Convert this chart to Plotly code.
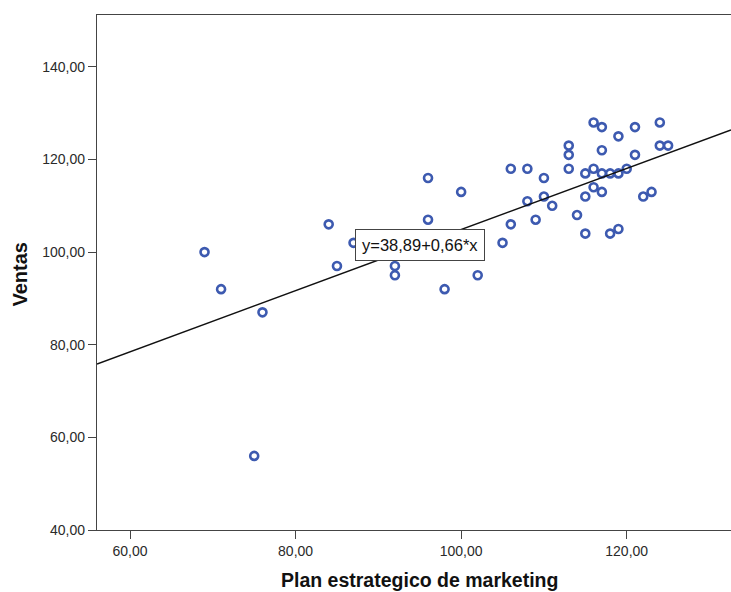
import plotly.graph_objects as go

# Data (Plan estrategico de marketing vs Ventas)
marketing = [69, 71, 76, 75,
             84, 85, 87, 92, 92, 96, 96, 98, 100, 102,
             105, 106, 106, 108, 108, 109, 110, 110, 111,
             113, 113, 113, 114, 115, 115, 115,
             116, 116, 116, 117, 117, 117, 117,
             118, 118, 119, 119, 119, 120,
             121, 121, 122, 123, 124, 124, 125]
ventas = [100, 92, 87, 56,
          106, 97, 102, 97, 95, 116, 107, 92, 113, 95,
          102, 118, 106, 118, 111, 107, 116, 112, 110,
          123, 121, 118, 108, 117, 112, 104,
          128, 118, 114, 127, 122, 117, 113,
          117, 104, 125, 117, 105, 118,
          127, 121, 112, 113, 128, 123, 123]

intercept = 38.89
slope = 0.66
fit_label = "y=38,89+0,66*x"

x_ticks = [60, 80, 100, 120]
x_tick_labels = ["60,00", "80,00", "100,00", "120,00"]
y_ticks = [40, 60, 80, 100, 120, 140]
y_tick_labels = ["40,00", "60,00", "80,00", "100,00", "120,00", "140,00"]

x_range = [56.01, 132.6]
y_range = [40, 151.2]

fig = go.Figure()

fig.add_trace(go.Scatter(
    x=marketing, y=ventas, mode="markers",
    marker=dict(symbol="circle-open", size=8, color="#3d5ab0",
                line=dict(width=2.6, color="#3d5ab0")),
    hoverinfo="x+y", showlegend=False))

line_x = [x_range[0], x_range[1]]
line_y = [intercept + slope * v for v in line_x]
fig.add_trace(go.Scatter(
    x=line_x, y=line_y, mode="lines",
    line=dict(color="#111111", width=1.5),
    hoverinfo="skip", showlegend=False))

fig.add_annotation(
    x=95.03, y=101.45, xref="x", yref="y", text=fit_label,
    showarrow=False, xanchor="center", yanchor="middle",
    font=dict(family="Liberation Sans, Arial, sans-serif", size=16.5, color="#111"),
    bgcolor="white", bordercolor="#444", borderwidth=1, borderpad=6)

fig.add_annotation(
    x=0.509, y=-0.0975, xref="paper", yref="paper",
    text="<b>Plan estrategico de marketing</b>", showarrow=False,
    xanchor="center", yanchor="middle",
    font=dict(family="Liberation Sans, Arial, sans-serif", size=19.5, color="#111"))

fig.add_annotation(
    x=-0.1215, y=0.496, xref="paper", yref="paper",
    text="<b>Ventas</b>", showarrow=False, textangle=-90,
    xanchor="center", yanchor="middle",
    font=dict(family="Liberation Sans, Arial, sans-serif", size=20, color="#111"))

axis_font = dict(family="Liberation Sans, Arial, sans-serif", size=14, color="#2a2a2a")

fig.update_layout(
    width=731, height=592,
    margin=dict(l=97, r=0, t=15, b=62),
    paper_bgcolor="white", plot_bgcolor="white",
    xaxis=dict(range=x_range, tickvals=x_ticks, ticktext=x_tick_labels,
               showgrid=False, zeroline=False, showline=True, mirror=True,
               linecolor="#444", linewidth=1.3, ticks="outside", ticklen=8,
               tickcolor="#444", tickfont=axis_font),
    yaxis=dict(range=y_range, tickvals=y_ticks, ticktext=y_tick_labels,
               showgrid=False, zeroline=False, showline=True, mirror=False,
               linecolor="#444", linewidth=1.3, ticks="outside", ticklen=8,
               tickcolor="#444", tickfont=axis_font),
)

fig.write_html(
    "out.html",
    config={"displayModeBar": False},
    post_script="document.body.style.margin='0';document.body.style.overflow='hidden';",
)
